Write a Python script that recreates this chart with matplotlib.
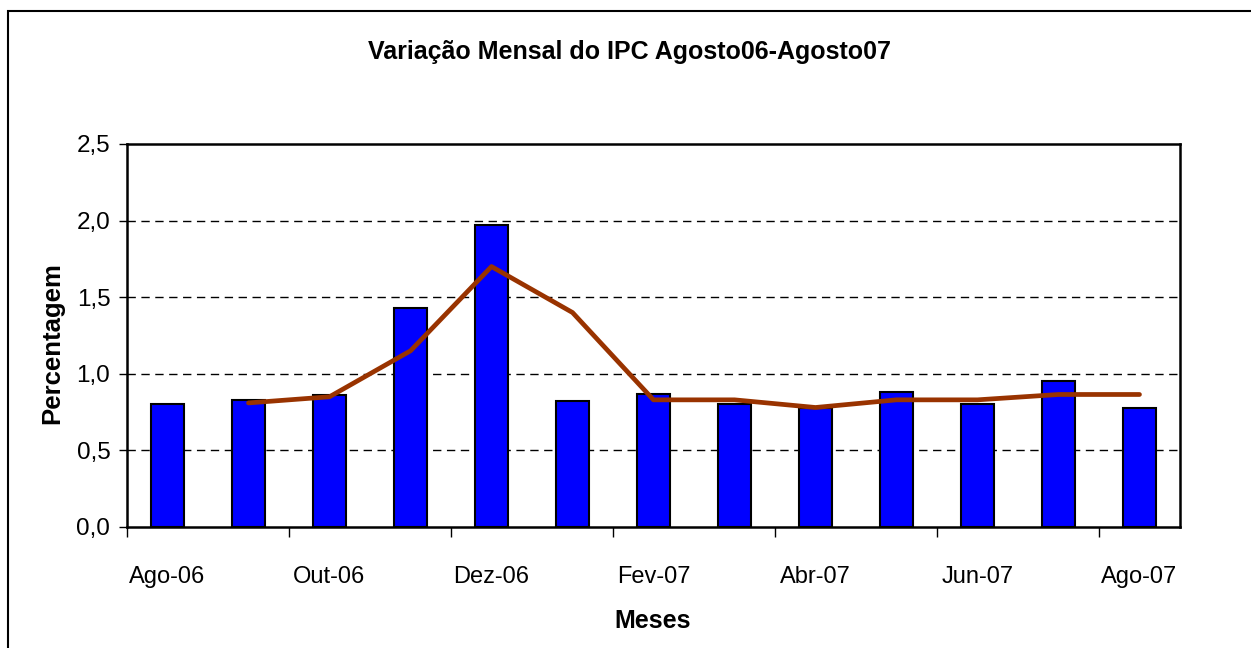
import numpy as np
import matplotlib
matplotlib.use("Agg")
import matplotlib.pyplot as plt
from matplotlib.patches import Rectangle

plt.rcParams['font.family'] = ['Liberation Sans', 'DejaVu Sans']

#%% data
meses = ['Ago-06', 'Set-06', 'Out-06', 'Nov-06', 'Dez-06', 'Jan-07', 'Fev-07',
         'Mar-07', 'Abr-07', 'Mai-07', 'Jun-07', 'Jul-07', 'Ago-07']
ipc = [0.80, 0.83, 0.86, 1.43, 1.97, 0.82, 0.87, 0.80, 0.78, 0.88, 0.80, 0.95, 0.78]
tendencia = [np.nan, 0.81, 0.85, 1.15, 1.70, 1.40, 0.83, 0.83, 0.78, 0.83, 0.83, 0.865, 0.865]
yticks = [0.0, 0.5, 1.0, 1.5, 2.0, 2.5]

W, H = 1251, 648
fig = plt.figure(figsize=(W / 100, H / 100), dpi=100)
ax = fig.add_axes([127 / W, 1 - 527 / H, (1180 - 127) / W, (527 - 144) / H])

x = np.arange(len(meses))
ax.bar(x, ipc, width=0.4, color='#0000FF', edgecolor='black', linewidth=1.5, zorder=3)
ax.plot(x, tendencia, color='#993300', linewidth=3.4, zorder=4, solid_capstyle='round')

ax.set_xlim(-0.5, len(meses) - 0.5)
ax.set_ylim(0, 2.5)

# y axis
ax.set_yticks(yticks)
ax.set_yticklabels([('%.1f' % v).replace('.', ',') for v in yticks], fontsize=17.5)
ax.tick_params(axis='y', direction='out', length=6, width=1, pad=6)
for v in yticks[1:-1]:
    ax.axhline(v, color='black', linestyle=(0, (6, 4)), linewidth=1, zorder=1)

# x axis: ticks between pairs of months, labels under every second bar
ax.set_xticks(np.arange(-0.5, len(meses) - 1, 2))
ax.set_xticklabels([])
ax.tick_params(axis='x', which='major', direction='out', length=7, width=1)
ax.set_xticks(x[::2], minor=True)
ax.set_xticklabels(meses[::2], minor=True, fontsize=17)
ax.tick_params(axis='x', which='minor', length=0, pad=28)

for s in ax.spines.values():
    s.set_linewidth(1.8)

fig.text(630 / W, 1 - 59 / H, 'Variação Mensal do IPC Agosto06-Agosto07',
         ha='center', va='baseline', fontsize=18, fontweight='bold')
fig.text(653 / W, 1 - 628 / H, 'Meses', ha='center', va='baseline',
         fontsize=18, fontweight='bold')
fig.text(52 / W, 1 - 343 / H, 'Percentagem', ha='center', va='center',
         rotation=90, fontsize=18.5, fontweight='bold')

# outer chart frame (cut at right and bottom)
fig.patches.append(Rectangle((8 / W, -0.1), 1.2, (H - 11) / H + 0.1,
                             transform=fig.transFigure, fill=False,
                             edgecolor='black', linewidth=1.5))

fig.savefig('out.png', dpi=100, facecolor='white')
